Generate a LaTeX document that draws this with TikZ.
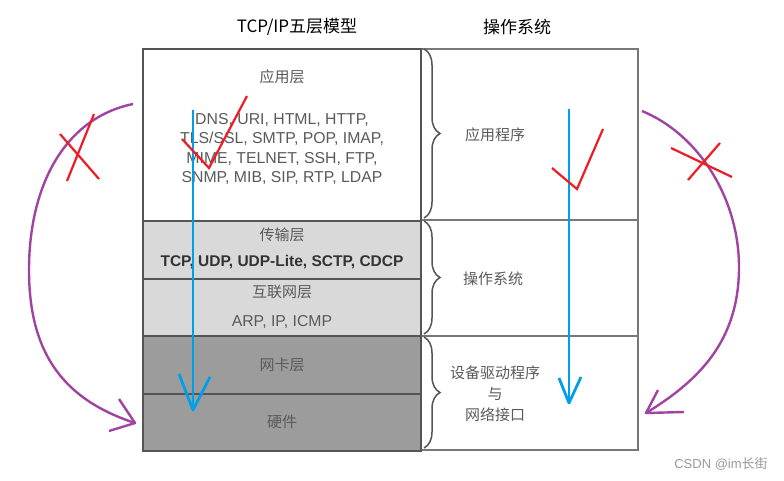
\documentclass[tikz,border=0pt]{standalone}
\usepackage{fontspec}
\setmainfont{Liberation Sans}
\newfontfamily\cjk{Noto Sans CJK SC}
\usetikzlibrary{decorations.pathreplacing}
\definecolor{edgegray}{HTML}{555555}
\definecolor{rgray}{HTML}{777777}
\definecolor{txtgray}{HTML}{5A5A5A}
\definecolor{lightfill}{HTML}{D9D9D9}
\definecolor{darkfill}{HTML}{9C9C9C}
\definecolor{arrowblue}{HTML}{00A0E9}
\definecolor{markred}{HTML}{EE1C25}
\definecolor{arcpurple}{HTML}{A044A0}
\tikzset{
  layerbox/.style={draw=edgegray, line width=2pt, anchor=north west, minimum width=278pt, inner sep=0pt},
  colbox/.style={draw=rgray, line width=2pt, anchor=north west, minimum width=217pt, inner sep=0pt},
  cjklbl/.style={text=txtgray, font=\cjk\fontsize{15}{17}\selectfont, inner sep=0pt},
  protolbl/.style={text=txtgray, font=\fontsize{15.8}{19.5}\selectfont, align=center, inner sep=0pt},
  boldlbl/.style={text=black!80, font=\bfseries\fontsize{15.5}{17}\selectfont, inner sep=0pt},
  titlelbl/.style={text=black, font=\cjk\fontsize{17}{19}\selectfont, inner sep=0pt},
  bracestyle/.style={draw=edgegray, line width=1.5pt, decorate, decoration={brace, amplitude=16pt}},
  bluearrow/.style={draw=arrowblue, line width=2.8pt},
  redmark/.style={draw=markred, line width=2.2pt},
  purplearc/.style={draw=arcpurple, line width=2.4pt},
}
\begin{document}
\begin{tikzpicture}[x=1pt,y=-1pt]
\useasboundingbox[fill=white] (0,0) rectangle (784,480);

% titles
\node[titlelbl] (t1) at (297,27) {TCP/IP五层模型};
\node[titlelbl] (t2) at (517,27) {操作系统};

% right column boxes
\node[colbox, minimum height=171pt] (rapp) at (420,48) {};
\node[colbox, minimum height=116pt] (ros) at (420,219) {};
\node[colbox, minimum height=114pt] (rdrv) at (420,335) {};

% left column layers
\node[layerbox, fill=white, minimum height=172pt] (app) at (142,48) {};
\node[layerbox, fill=lightfill, minimum height=58pt] (trans) at (142,220) {};
\node[layerbox, fill=lightfill, minimum height=57pt] (inet) at (142,278) {};
\node[layerbox, fill=darkfill, minimum height=58pt] (nic) at (142,335) {};
\node[layerbox, fill=darkfill, minimum height=57pt] (hw) at (142,393) {};

% braces
\draw[bracestyle] (424,49) -- (424,218);
\draw[bracestyle] (424,221) -- (424,334);
\draw[bracestyle] (424,337) -- (424,448);

% left texts
\node[cjklbl] (appl) at (282,77) {应用层};
\node[protolbl] (appp) at (282,149) {DNS, URI, HTML, HTTP,\\TLS/SSL, SMTP, POP, IMAP,\\MIME, TELNET, SSH, FTP,\\SNMP, MIB, SIP, RTP, LDAP};
\node[cjklbl] (transl) at (282,235) {传输层};
\node[boldlbl] (transp) at (282,262) {TCP, UDP, UDP-Lite, SCTP, CDCP};
\node[cjklbl] (inetl) at (282,292) {互联网层};
\node[protolbl] (inetp) at (282,322) {ARP, IP, ICMP};
\node[cjklbl] (nicl) at (282,365) {网卡层};
\node[cjklbl] (hwl) at (282,422) {硬件};

% right texts
\node[cjklbl] (rappl) at (495,135) {应用程序};
\node[cjklbl] (rosl) at (493,279) {操作系统};
\node[cjklbl, align=center, font=\cjk\fontsize{15}{21}\selectfont] (rdrvl) at (495,394) {设备驱动程序\\与\\网络接口};

% watermark
\node[text=black!40, font=\fontsize{13}{15}\selectfont, inner sep=0pt] (wm) at (721,464) {CSDN @im{\cjk 长街}};

% blue arrows
\coordinate (b1s) at (193,110);
\coordinate (b1e) at (193,410);
\coordinate (b1a) at (179,374);
\coordinate (b1b) at (210,377);
\draw[bluearrow] (b1s) -- (b1e);
\draw[bluearrow, line join=round] (b1a) -- (b1e) -- (b1b);
\coordinate (b2s) at (569,109);
\coordinate (b2e) at (569,403);
\coordinate (b2a) at (559,378);
\coordinate (b2b) at (581,377);
\draw[bluearrow] (b2s) -- (b2e);
\draw[bluearrow, line join=round] (b2a) -- (b2e) -- (b2b);

% red check marks
\coordinate (c1a) at (182,139);
\coordinate (c1b) at (209,168);
\coordinate (c1c) at (247,96);
\draw[redmark] (c1a) -- (c1b) -- (c1c);
\coordinate (c2a) at (552,168);
\coordinate (c2b) at (577,189);
\coordinate (c2c) at (603,129);
\draw[redmark] (c2a) -- (c2b) -- (c2c);

% purple arcs
\coordinate (p1s) at (133,104);
\coordinate (p1m) at (29,270);
\coordinate (p1e) at (135,423);
\draw[purplearc] (p1s) .. controls (65,118) and (29,185) .. (p1m) .. controls (29,355) and (65,400) .. (p1e);
\coordinate (p1a) at (119,399);
\coordinate (p1b) at (109,431);
\draw[purplearc, line join=round] (p1a) -- (p1e) -- (p1b);
\coordinate (p2s) at (642,111);
\coordinate (p2m) at (739,267);
\coordinate (p2e) at (646,413);
\draw[purplearc] (p2s) .. controls (700,135) and (739,200) .. (p2m) .. controls (739,340) and (700,380) .. (p2e);
\coordinate (p2a) at (658,390);
\coordinate (p2b) at (684,412);
\draw[purplearc, line join=round] (p2a) -- (p2e) -- (p2b);

% red crosses
\coordinate (x1a) at (60,134);
\coordinate (x1b) at (99,179);
\coordinate (x1c) at (94,114);
\coordinate (x1d) at (67,181);
\draw[redmark] (x1a) -- (x1b);
\draw[redmark] (x1c) -- (x1d);
\coordinate (x2a) at (671,148);
\coordinate (x2b) at (732,177);
\coordinate (x2c) at (720,143);
\coordinate (x2d) at (688,180);
\draw[redmark] (x2a) -- (x2b);
\draw[redmark] (x2c) -- (x2d);
\end{tikzpicture}
\end{document}
